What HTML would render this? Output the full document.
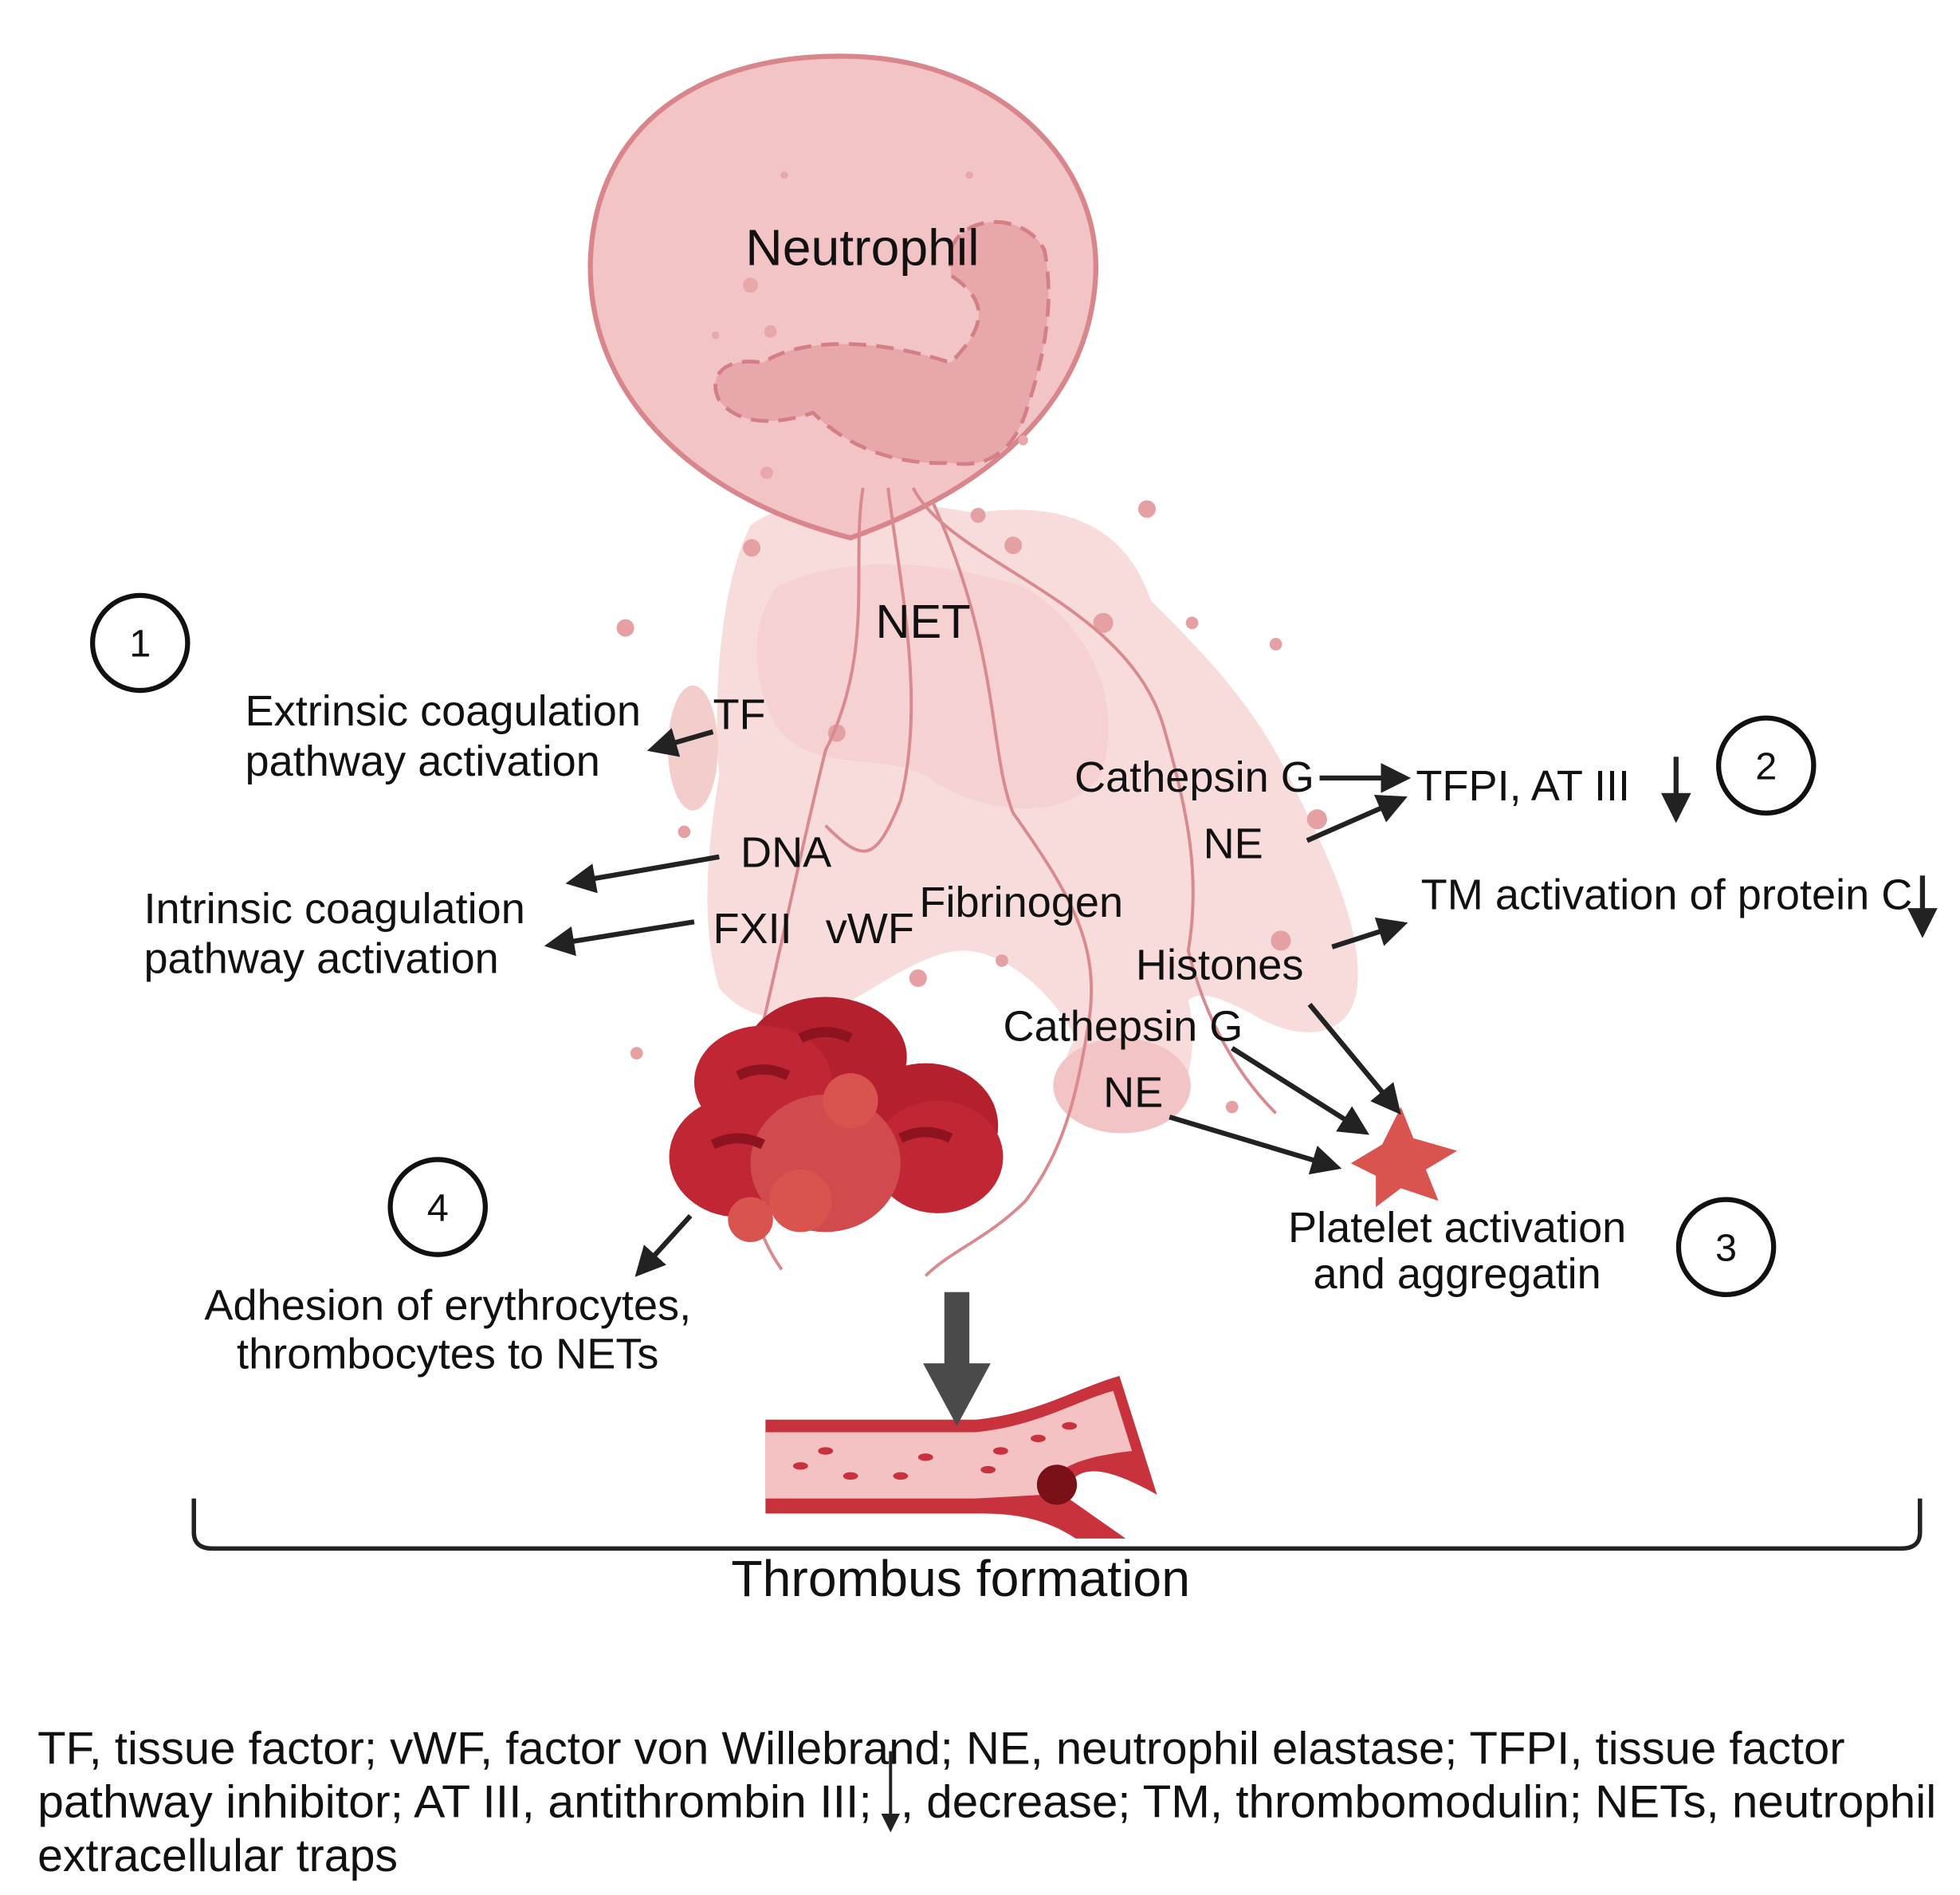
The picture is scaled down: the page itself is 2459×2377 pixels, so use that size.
<!DOCTYPE html>
<html><head><meta charset="utf-8"><style>
html,body{margin:0;padding:0;background:#fff}
svg{display:block}
text{font-family:"Liberation Sans",sans-serif;fill:#111}
</style></head><body>
<svg width="2459" height="2377" viewBox="0 0 1567 1515" preserveAspectRatio="none" xmlns="http://www.w3.org/2000/svg">
<defs>
<marker id="ah" markerWidth="6" markerHeight="6" refX="4" refY="3" orient="auto" markerUnits="strokeWidth"><path d="M0,0 L6,3 L0,6 Z" fill="#222"/></marker>
</defs>
<path d="M600,420 C640,390 720,400 780,410 C850,400 900,420 920,480 C960,520 1000,560 1030,620 C1060,680 1090,740 1085,790 C1080,830 1040,835 1000,810 C980,800 960,790 950,800 C960,840 950,900 900,905 C850,905 840,860 860,830 C840,790 800,760 770,760 C740,760 700,790 680,800 C640,820 600,820 575,790 C560,740 565,680 575,620 C570,560 575,470 600,420 Z" fill="#f8dcdc"/>
<path d="M620,470 C680,440 760,450 820,470 C870,500 900,560 880,620 C850,660 780,650 740,620 C700,600 650,620 620,580 C600,540 600,500 620,470 Z" fill="#f3cccc" opacity="0.7"/>
<ellipse cx="554" cy="598" rx="20" ry="50" fill="#f3cccc"/>
<path d="M680,430 C560,400 470,320 472,210 C475,100 560,42 680,45 C800,48 880,130 876,220 C872,300 820,380 680,430 Z" fill="#f2c4c6" stroke="#d8868b" stroke-width="4"/>
<path d="M760,200 C770,170 820,170 835,200 C845,250 830,300 820,330 C810,360 790,375 760,370 C720,372 680,360 650,330 C620,340 590,340 575,320 C565,300 580,285 610,290 C640,270 700,270 760,290 C790,260 790,240 760,220 Z" fill="#e8a7aa" stroke="#d27f85" stroke-width="3" stroke-dasharray="14,8"/>
<g fill="#e8a7aa"><circle cx="600" cy="228" r="6"/><circle cx="616" cy="265" r="5"/><circle cx="660" cy="285" r="5"/><circle cx="613" cy="378" r="5"/><circle cx="627" cy="140" r="3"/><circle cx="775" cy="140" r="3"/><circle cx="572" cy="268" r="3"/><circle cx="818" cy="352" r="4"/></g>
<g fill="#e4a0a3"><circle cx="601" cy="438" r="7"/><circle cx="500" cy="502" r="7"/><circle cx="917" cy="407" r="7"/><circle cx="882" cy="498" r="8"/><circle cx="1020" cy="515" r="5"/><circle cx="953" cy="498" r="5"/><circle cx="669" cy="586" r="7"/><circle cx="1053" cy="655" r="8"/><circle cx="1024" cy="752" r="8"/><circle cx="734" cy="782" r="7"/><circle cx="801" cy="768" r="5"/><circle cx="547" cy="665" r="5"/><circle cx="509" cy="842" r="5"/><circle cx="985" cy="885" r="5"/><circle cx="810" cy="436" r="7"/><circle cx="782" cy="412" r="6"/></g>
<ellipse cx="897" cy="868" rx="55" ry="38" fill="#f2c4c6"/>
<g fill="none" stroke="#d98a8e" stroke-width="2.5">
<path d="M690,390 C680,450 700,520 660,600 C640,680 620,780 600,860 C590,930 600,980 625,1015"/>
<path d="M710,390 C720,470 740,560 720,640 C700,690 690,690 660,660"/>
<path d="M730,390 C760,450 900,480 930,580 C950,650 960,700 950,760 C960,800 980,850 1020,890"/>
<path d="M745,400 C800,520 790,600 810,650 C860,720 880,760 870,820 C860,880 850,920 820,960 C790,990 760,1000 740,1020"/>
</g>
<g>
<ellipse cx="660" cy="845" rx="65" ry="48" fill="#b5202e"/>
<ellipse cx="610" cy="865" rx="55" ry="45" fill="#c12634"/>
<ellipse cx="740" cy="900" rx="58" ry="50" fill="#b5202e"/>
<ellipse cx="590" cy="925" rx="55" ry="48" fill="#c12634"/>
<ellipse cx="750" cy="925" rx="52" ry="45" fill="#c12634"/>
<ellipse cx="660" cy="930" rx="60" ry="55" fill="#d04a4e"/>
<path d="M640,830 q20,-10 40,0" stroke="#8e1320" stroke-width="8" fill="none"/>
<path d="M720,910 q20,-10 40,0" stroke="#8e1320" stroke-width="8" fill="none"/>
<path d="M570,915 q20,-10 40,0" stroke="#8e1320" stroke-width="8" fill="none"/>
<path d="M590,860 q20,-10 40,0" stroke="#8e1320" stroke-width="8" fill="none"/>
<circle cx="640" cy="960" r="25" fill="#d9534f"/><circle cx="680" cy="880" r="22" fill="#d9534f"/><circle cx="600" cy="975" r="18" fill="#d9534f"/>
</g>
<path d="M1120,885 L1130,910 L1165,920 L1140,935 L1150,960 L1120,950 L1100,965 L1100,940 L1080,930 L1105,915 Z" fill="#d9534f"/>
<path d="M612,1135 L780,1135 C830,1130 860,1110 895,1100 L925,1195 C880,1170 860,1170 850,1195 L900,1230 L860,1230 C830,1210 800,1210 780,1210 L612,1210 Z" fill="#c8323c"/>
<path d="M612,1145 L780,1145 C830,1140 860,1120 890,1112 L905,1160 C860,1165 840,1175 835,1195 L780,1198 L612,1198 Z" fill="#f4c2c2"/>
<g fill="#c8323c"><ellipse cx="640" cy="1172" rx="6" ry="3"/><ellipse cx="680" cy="1180" rx="6" ry="3"/><ellipse cx="660" cy="1160" rx="6" ry="3"/><ellipse cx="720" cy="1180" rx="6" ry="3"/><ellipse cx="740" cy="1165" rx="6" ry="3"/><ellipse cx="790" cy="1175" rx="6" ry="3"/><ellipse cx="800" cy="1160" rx="6" ry="3"/><ellipse cx="830" cy="1150" rx="6" ry="3"/><ellipse cx="855" cy="1140" rx="6" ry="3"/></g>
<circle cx="845" cy="1187" r="16" fill="#7a1018"/>
<rect x="755" y="1033" width="20" height="60" fill="#4a4a4a"/>
<path d="M738,1090 L792,1090 L765,1140 Z" fill="#4a4a4a"/>
<path d="M155,1198 L155,1225 Q155,1238 170,1238 L1520,1238 Q1535,1238 1535,1225 L1535,1198" fill="none" stroke="#222" stroke-width="3.5"/>
<g fill="none" stroke="#111" stroke-width="4"><circle cx="112" cy="514" r="38"/><circle cx="1412" cy="612" r="38"/><circle cx="1380" cy="997" r="38"/><circle cx="350" cy="965" r="38"/></g>
<g font-size="31" text-anchor="middle"><text x="112" y="525">1</text><text x="1412" y="623">2</text><text x="1380" y="1008">3</text><text x="350" y="976">4</text></g>
<g stroke="#222" stroke-width="4" fill="none" marker-end="url(#ah)">
<line x1="570" y1="585" x2="525" y2="598"/>
<line x1="575" y1="685" x2="460" y2="705"/>
<line x1="555" y1="737" x2="443" y2="755"/>
<line x1="1055" y1="622" x2="1120" y2="622"/>
<line x1="1045" y1="672" x2="1118" y2="640"/>
<line x1="1065" y1="757" x2="1118" y2="740"/>
<line x1="1047" y1="803" x2="1115" y2="885"/>
<line x1="985" y1="838" x2="1088" y2="903"/>
<line x1="935" y1="893" x2="1065" y2="932"/>
<line x1="552" y1="972" x2="513" y2="1015"/>
<line x1="1340" y1="605" x2="1340" y2="650"/>
<line x1="1537" y1="700" x2="1537" y2="742"/>
<line x1="712" y1="1400" x2="712" y2="1460" stroke-width="2.5"/>
</g>
<g font-size="34.5">
<text x="596" y="212" font-size="41">Neutrophil</text>
<text x="700" y="510" font-size="38">NET</text>
<text x="196" y="580">Extrinsic coagulation</text>
<text x="196" y="620">pathway activation</text>
<text x="570" y="583">TF</text>
<text x="592" y="693">DNA</text>
<text x="115" y="738">Intrinsic coagulation</text>
<text x="115" y="778">pathway activation</text>
<text x="570" y="754">FXII</text>
<text x="660" y="754">vWF</text>
<text x="735" y="733">Fibrinogen</text>
<text x="859" y="633">Cathepsin G</text>
<text x="962" y="686">NE</text>
<text x="1132" y="640">TFPI, AT III</text>
<text x="1136" y="727">TM activation of protein C</text>
<text x="908" y="783">Histones</text>
<text x="802" y="832">Cathepsin G</text>
<text x="882" y="885">NE</text>
<text x="1165" y="993" text-anchor="middle">Platelet activation</text>
<text x="1165" y="1030" text-anchor="middle">and aggregatin</text>
<text x="358" y="1055" text-anchor="middle">Adhesion of erythrocytes,</text>
<text x="358" y="1094" text-anchor="middle">thrombocytes to NETs</text>
<text x="768" y="1276" text-anchor="middle" font-size="41">Thrombus formation</text>
<text x="30" y="1410" font-size="36.5" textLength="1445" lengthAdjust="spacingAndGlyphs">TF, tissue factor; vWF, factor von Willebrand; NE, neutrophil elastase; TFPI, tissue factor</text>
<text x="30" y="1453" font-size="36.5" textLength="667" lengthAdjust="spacingAndGlyphs">pathway inhibitor; AT III, antithrombin III;</text>
<text x="720" y="1453" font-size="36.5" textLength="828" lengthAdjust="spacingAndGlyphs">, decrease; TM, thrombomodulin; NETs, neutrophil</text>
<text x="30" y="1496" font-size="36.5">extracellular traps</text>
</g>
</svg>
</body></html>
